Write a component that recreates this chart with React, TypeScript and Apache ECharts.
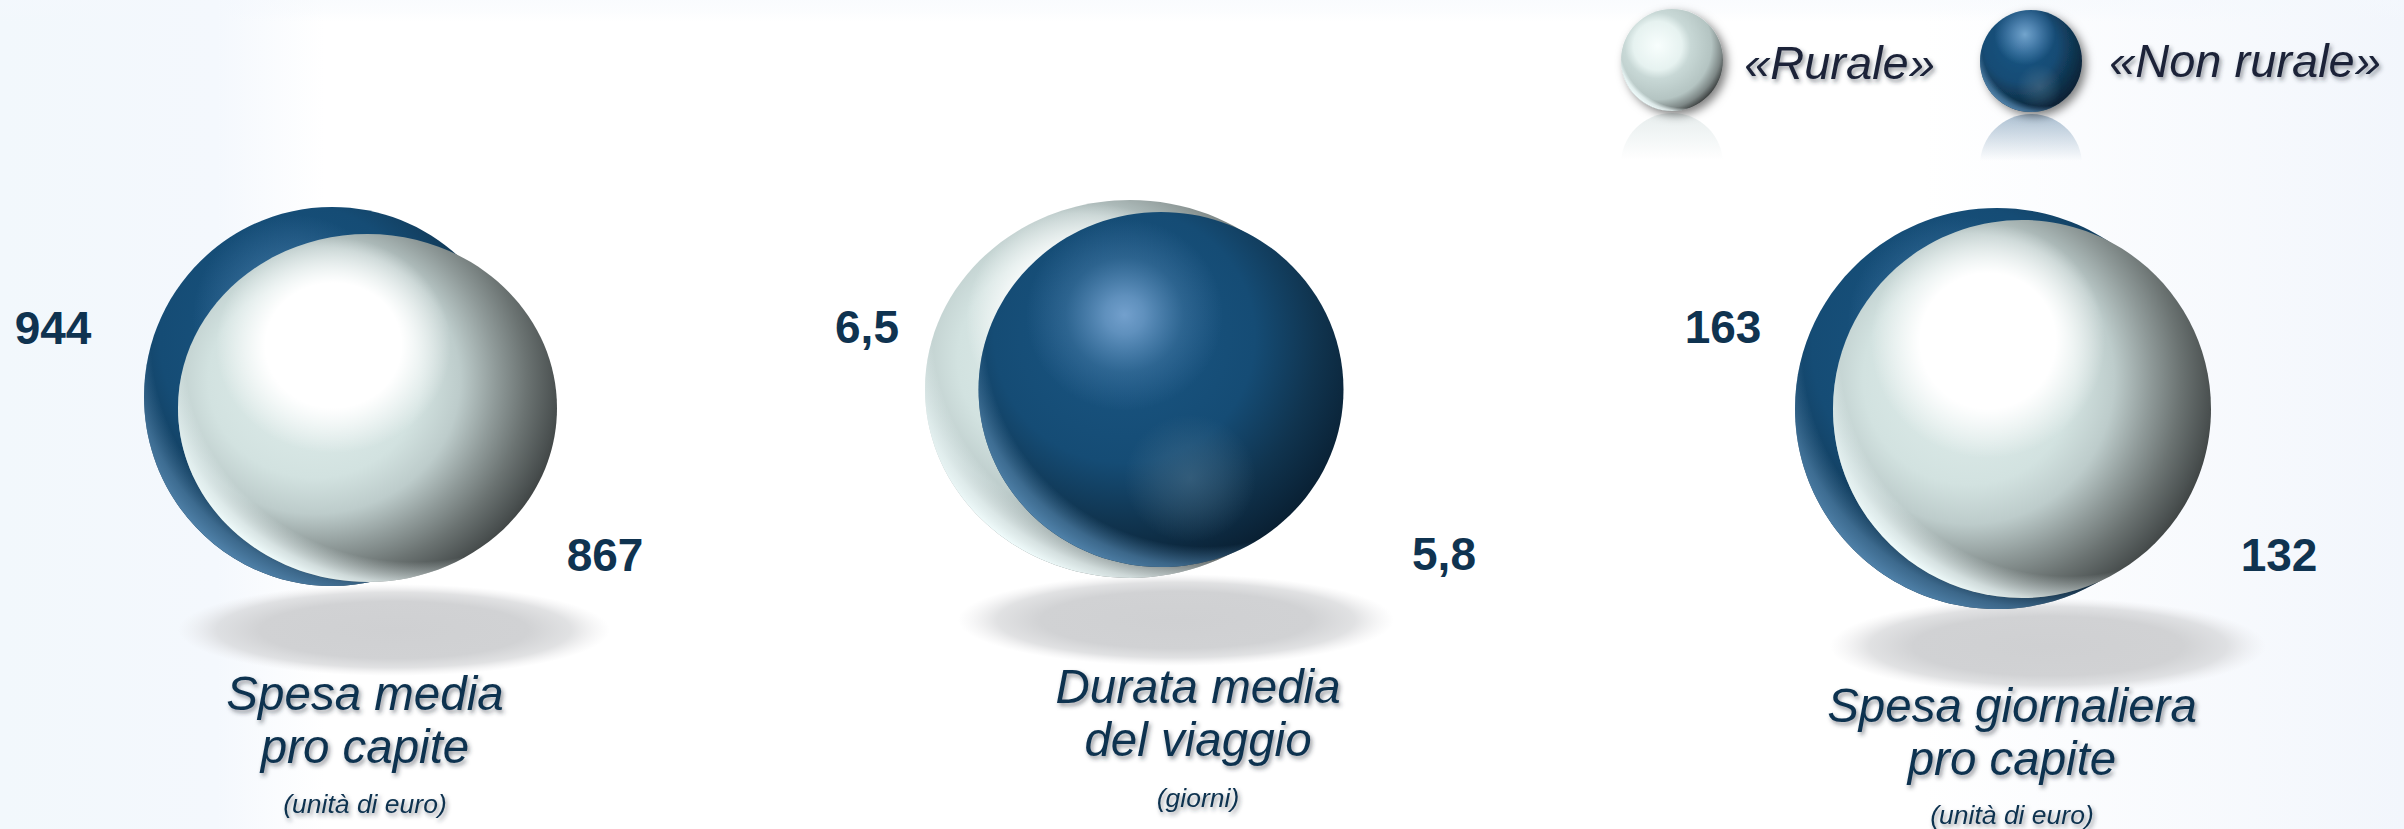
import React, { useEffect, useRef } from "react";
import * as echarts from "echarts";

const WIDTH = 2404;
const HEIGHT = 829;

const metricTitles = ["Spesa media\npro capite", "Durata media\ndel viaggio", "Spesa giornaliera\npro capite"];
const metricUnits = ["(unità di euro)", "(giorni)", "(unità di euro)"];
const ruraleValues = [867, 6.5, 132];
const nonRuraleValues = [944, 5.8, 163];
const ruraleLabels = ["867", "6,5", "132"];
const nonRuraleLabels = ["944", "5,8", "163"];
const legendNames = ["«Rurale»", "«Non rurale»"];

// layout: [cx, cy, rx, ry]
const ruraleGeom = [[367.5, 408, 189.5, 174], [1130, 389, 205, 189], [2022, 409, 189, 189]];
const nonRuraleGeom = [[332, 396.5, 188, 189.5], [1161, 389.5, 182.5, 177.5], [1997, 408.5, 202, 200.5]];
const ruraleLabelPos = [[605, 555], [867, 327], [2279, 555]];
const nonRuraleLabelPos = [[53, 328], [1444, 554], [1723, 327]];
const shadowGeom = [[394, 630, 216, 46], [1176, 620, 218, 46], [2048, 646, 218, 48]];
const titlePos = [[365, 720], [1198, 713], [2012, 732]];
const unitPos = [[365, 804], [1198, 798], [2012, 815]];
const ruraleZ = [2, 1, 2];
const nonRuraleZ = [1, 2, 1];

const FONT = '"Liberation Sans", Arial, sans-serif';
const NAVY = "#0f3350";

const radial = (x: number, y: number, r: number, stops: [number, string][]) => ({
  type: "radial", x, y, r, colorStops: stops.map(([offset, color]) => ({ offset, color })),
});

function sphereFills(kind: "light" | "dark", legend: boolean) {
  if (kind === "light") {
    return [
      legend
        ? radial(0.36, 0.36, 0.85, [[0, "#f8fefd"], [0.28, "#e6f2f0"], [0.38, "#c8d8d6"], [0.62, "#b4c4c2"], [0.74, "#7d8786"], [0.82, "#3c4040"], [1, "#2a2c2c"]])
        : radial(0.36, 0.42, 0.8, [[0, "#e2efed"], [0.35, "#d2e2e0"], [0.48, "#bdcccb"], [0.6, "#8f9a99"], [0.7, "#6b7372"], [0.8, "#4a5050"], [0.88, "#2e3131"], [1, "#222424"]]),
      radial(0.62, 0.34, 0.7, [[0, "rgba(240,252,252,0)"], [legend ? 0.9 : 0.86, "rgba(240,252,252,0)"], [0.95, "rgba(240,252,252,0.75)"], [1, "rgba(240,252,252,1)"]]),
      ...(legend ? [] : [radial(0.41, 0.32, 0.31, [[0, "rgba(255,255,255,1)"], [0.58, "rgba(255,255,255,1)"], [1, "rgba(255,255,255,0)"]])]),
    ];
  }
  return [
    radial(0.4, 0.35, 0.85, [[0, "#1a5683"], [0.42, "#154c75"], [0.62, "#10344f"], [0.78, "#0a2236"], [0.92, "#03131f"], [1, "#020e18"]]),
    radial(0.62, 0.34, 0.7, [[0, "rgba(80,130,170,0)"], [0.86, "rgba(80,130,170,0)"], [0.94, "rgba(80,130,170,0.7)"], [1, "rgba(80,130,170,1)"]]),
    legend
      ? radial(0.44, 0.24, 0.3, [[0, "rgba(115,165,205,1)"], [0.35, "rgba(100,150,195,0.75)"], [1, "rgba(90,140,190,0)"]])
      : radial(0.4, 0.29, 0.27, [[0, "rgba(115,160,205,1)"], [0.2, "rgba(108,155,200,0.85)"], [0.6, "rgba(95,145,190,0.3)"], [1, "rgba(90,140,190,0)"]]),
    radial(0.58, 0.75, legend ? 0.22 : 0.18, [[0, "rgba(90,125,150,0.45)"], [0.5, "rgba(90,125,150,0.25)"], [1, "rgba(90,125,150,0)"]]),
  ];
}

function sphereLayers(kind: "light" | "dark", cx: number, cy: number, rx: number, ry: number, z2: number, legend = false) {
  const shape = { cx, cy, rx, ry };
  return sphereFills(kind, legend).map((fill, i) => ({
    type: "ellipse", shape, z2: z2 + i, silent: true,
    style: {
      fill,
      ...(legend && i === 0 ? { shadowBlur: 10, shadowColor: "rgba(0,0,0,0.5)", shadowOffsetX: 4, shadowOffsetY: 4 } : {}),
    },
  }));
}

const reflection = (cx: number, cy: number, r: number, rgb: string, a: number) => ({
  type: "ellipse", z2: 59, shape: { cx, cy, rx: r, ry: r },
  style: {
    fill: {
      type: "linear", x: 0, y: 0, x2: 0, y2: 1,
      colorStops: [{ offset: 0, color: `rgba(${rgb},${a})` }, { offset: 0.46, color: `rgba(${rgb},0)` }, { offset: 1, color: `rgba(${rgb},0)` }],
    },
  },
});

const textEl = (text: string, x: number, y: number, size: number, weight: string, fontStyle: string, fill: string, z2: number, shadow: boolean, lineHeight?: number) => ({
  type: "text",
  z2,
  style: {
    text, x, y, fill, fontSize: size, fontWeight: weight, fontStyle, fontFamily: FONT,
    align: "center", verticalAlign: "middle", lineHeight,
    ...(shadow ? { textShadowColor: "rgba(40,50,60,0.5)", textShadowBlur: 4, textShadowOffsetX: 2, textShadowOffsetY: 3 } : {}),
  },
});

function makeRenderer(kind: "light" | "dark", zOrder: number[]) {
  return (params: any, api: any) => {
    const c = api.coord([api.value(0), api.value(1)]);
    const s = api.size([api.value(2), api.value(3)]);
    return {
      type: "group",
      children: sphereLayers(kind, c[0], c[1], s[0], s[1], zOrder[params.dataIndex] * 10),
    };
  };
}

function buildSeriesData(geom: number[][], values: number[], labels: string[], pos: number[][]) {
  return geom.map((g, i) => ({ name: labels[i], value: [g[0], g[1], g[2], g[3], values[i], pos[i][0], pos[i][1]] }));
}

export default function App() {
  const ref = useRef<HTMLDivElement>(null);
  useEffect(() => {
    document.body.style.margin = "0";
    document.body.style.overflow = "hidden";
    const chart = echarts.init(ref.current!, undefined, { renderer: "svg" });

    const legendGraphic = [
      {
        type: "rect", z2: 0, shape: { x: 0, y: 0, width: WIDTH, height: 22 },
        style: { fill: { type: "linear", x: 0, y: 0, x2: 0, y2: 1, colorStops: [{ offset: 0, color: "rgba(244,248,253,0.5)" }, { offset: 0.5, color: "rgba(244,248,253,0.35)" }, { offset: 1, color: "rgba(244,248,253,0)" }] } },
      },
      ...sphereLayers("light", 1672, 60, 51, 51, 60, true),
      reflection(1672, 164, 51, "200,215,215", 0.45),
      ...sphereLayers("dark", 2031, 61, 51, 51, 60, true),
      reflection(2031, 165, 51, "90,130,165", 0.5),
      textEl(legendNames[0], 1839.5, 62, 47, "normal", "italic", "#1a2238", 70, true),
      textEl(legendNames[1], 2245, 60, 47, "normal", "italic", "#1a2238", 70, true),
    ];

    const option: any = {
      animation: false,
      backgroundColor: {
        type: "linear", x: 0, y: 0, x2: 1, y2: 0,
        colorStops: [
          { offset: 0, color: "#f2f8fc" }, { offset: 0.09, color: "#f4f8fd" }, { offset: 0.135, color: "#ffffff" },
          { offset: 0.8, color: "#ffffff" }, { offset: 1, color: "#f2f6fc" },
        ],
      },
      grid: { left: 0, right: 0, top: 0, bottom: 0 },
      xAxis: { type: "value", min: 0, max: WIDTH, show: false },
      yAxis: { type: "value", min: 0, max: HEIGHT, inverse: true, show: false },
      graphic: { elements: legendGraphic },
      tooltip: { show: false },
      series: [
        {
          type: "custom", name: "Ombre", coordinateSystem: "cartesian2d", silent: true,
          data: shadowGeom,
          renderItem: (_p: any, api: any) => {
            const c = api.coord([api.value(0), api.value(1)]);
            const s = api.size([api.value(2), api.value(3)]);
            return {
              type: "ellipse", z2: 1,
              shape: { cx: c[0], cy: c[1], rx: s[0], ry: s[1] },
              style: { fill: radial(0.5, 0.5, 0.5, [[0, "#cfd0d2"], [0.62, "#d1d2d4"], [0.82, "rgba(212,213,215,0.7)"], [0.93, "rgba(220,220,222,0.25)"], [1, "rgba(225,225,227,0)"]]) },
            };
          },
        },
        {
          type: "custom", name: legendNames[1], coordinateSystem: "cartesian2d", silent: true,
          data: buildSeriesData(nonRuraleGeom, nonRuraleValues, nonRuraleLabels, nonRuraleLabelPos),
          renderItem: makeRenderer("dark", nonRuraleZ),
        },
        {
          type: "custom", name: legendNames[0], coordinateSystem: "cartesian2d", silent: true,
          data: buildSeriesData(ruraleGeom, ruraleValues, ruraleLabels, ruraleLabelPos),
          renderItem: makeRenderer("light", ruraleZ),
        },
        {
          type: "custom", name: "Etichette", coordinateSystem: "cartesian2d", silent: true,
          data: metricTitles.map((t, i) => ({ name: t, value: [titlePos[i][0], titlePos[i][1], unitPos[i][0], unitPos[i][1]] })),
          renderItem: (p: any, api: any) => {
            const i = p.dataIndex;
            const t = api.coord([api.value(0), api.value(1)]);
            const u = api.coord([api.value(2), api.value(3)]);
            const a = api.coord(ruraleLabelPos[i]);
            const b = api.coord(nonRuraleLabelPos[i]);
            return {
              type: "group",
              children: [
                textEl(metricTitles[i], t[0], t[1], 47.5, "normal", "italic", NAVY, 100, true, 53),
                textEl(metricUnits[i], u[0], u[1], 26.5, "normal", "italic", NAVY, 100, true),
                textEl(ruraleLabels[i], a[0], a[1], 46, "bold", "normal", NAVY, 100, false),
                textEl(nonRuraleLabels[i], b[0], b[1], 46, "bold", "normal", NAVY, 100, false),
              ],
            };
          },
        },
      ],
    };
    chart.setOption(option);
    return () => chart.dispose();
  }, []);
  return <div ref={ref} style={{ width: WIDTH, height: HEIGHT }} />;
}
